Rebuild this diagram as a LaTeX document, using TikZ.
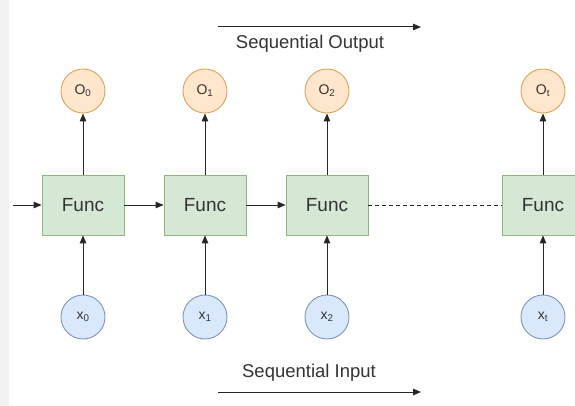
\documentclass[tikz,border=0pt]{standalone}
\usepackage{fontspec}
\setmainfont{Liberation Sans}
\usetikzlibrary{arrows.meta}
\definecolor{outfill}{HTML}{FFE6CC}
\definecolor{outdraw}{HTML}{D6A45A}
\definecolor{infill}{HTML}{DAE8FC}
\definecolor{indraw}{HTML}{7D95B8}
\definecolor{boxfill}{HTML}{D5E8D4}
\definecolor{boxdraw}{HTML}{8DB87A}
\definecolor{txt}{HTML}{333333}
\definecolor{stripe}{HTML}{F2F2F2}
\tikzset{
  outc/.style={circle, minimum size=44pt, inner sep=0pt, fill=outfill, draw=outdraw, line width=0.9pt, text=txt, font=\fontsize{14}{14}\selectfont},
  inc/.style={circle, minimum size=44pt, inner sep=0pt, fill=infill, draw=indraw, line width=0.9pt, text=txt, font=\fontsize{14}{14}\selectfont},
  funcbox/.style={rectangle, minimum width=82pt, minimum height=60pt, inner sep=0pt, fill=boxfill, draw=boxdraw, line width=0.8pt, text=txt, font=\fontsize{19}{19}\selectfont},
  conn/.style={draw=black!85, line width=1pt, -{Triangle[length=8pt,width=6.5pt]}},
  lbl/.style={text=txt, font=\fontsize{18.5}{18.5}\selectfont},
}
\begin{document}
\begin{tikzpicture}[x=1pt,y=-1pt]
\useasboundingbox (0,0) rectangle (575,406);
\clip (0,0) rectangle (575,406);
\fill[stripe] (0,0) rectangle (9,406);
% nodes
\node[funcbox] (f0) at (83,205) {Func};
\node[funcbox] (f1) at (205,205) {Func};
\node[funcbox] (f2) at (327,205) {Func};
\node[funcbox] (ft) at (543,205) {Func};
\node[outc] (o0) at (83,91) {O\textsubscript{0}};
\node[outc] (o1) at (205,91) {O\textsubscript{1}};
\node[outc] (o2) at (327,91) {O\textsubscript{2}};
\node[outc] (ot) at (543,91) {O\textsubscript{t}};
\node[inc] (x0) at (83,317) {x\textsubscript{0}};
\node[inc] (x1) at (205,317) {x\textsubscript{1}};
\node[inc] (x2) at (327,317) {x\textsubscript{2}};
\node[inc] (xt) at (543,317) {x\textsubscript{t}};
\coordinate (start) at (13,205);
% connectors
\foreach \i in {0,1,2,t}{
  \draw[conn] (f\i) -- (o\i);
  \draw[conn] (x\i) -- (f\i);
}
\draw[conn] (start) -- (f0);
\draw[conn] (f0) -- (f1);
\draw[conn] (f1) -- (f2);
\draw[black!85, line width=1pt, dashed, dash pattern=on 4pt off 3pt] (f2) -- (ft);
% sequential arrows
\coordinate (so1) at (218,27);
\coordinate (so2) at (421,27);
\draw[conn] (so1) -- (so2);
\node[lbl] (solbl) at (310,44) {Sequential Output};
\coordinate (si1) at (218,392);
\coordinate (si2) at (421,392);
\draw[conn] (si1) -- (si2);
\node[lbl] (silbl) at (309,373) {Sequential Input};
\end{tikzpicture}
\end{document}
